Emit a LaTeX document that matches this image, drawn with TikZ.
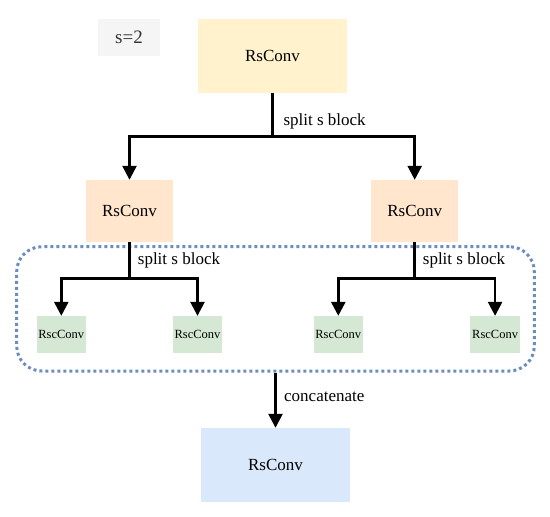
\documentclass[tikz,border=0pt]{standalone}
\usepackage{fontspec}
\setmainfont{Liberation Serif}
\usetikzlibrary{arrows.meta}
\definecolor{cYellow}{HTML}{FFF2CC}
\definecolor{cPeach}{HTML}{FFE6CC}
\definecolor{cGreen}{HTML}{D5E8D4}
\definecolor{cBlue}{HTML}{DAE8FC}
\definecolor{cGray}{HTML}{F5F5F5}
\definecolor{cDot}{HTML}{6C8EBF}
\tikzset{
  box/.style={rectangle, inner sep=0pt, font=\fontsize{17}{20}\selectfont},
  bigbox/.style={box, minimum width=149pt, minimum height=74pt},
  midbox/.style={box, fill=cPeach, minimum width=87pt, minimum height=62pt},
  smallbox/.style={box, fill=cGreen, minimum width=49.5pt, minimum height=37.3pt, font=\fontsize{12.5}{14}\selectfont},
  lbl/.style={inner sep=0pt, anchor=west, font=\fontsize{17}{20}\selectfont},
  conn/.style={line width=2.5pt, line join=miter},
  arr/.style={conn, -{Triangle[width=14pt,length=14pt]}},
}
\begin{document}
\begin{tikzpicture}[x=1pt,y=-1pt]
\useasboundingbox (0,0) rectangle (550,517);
% legend
\node[box, fill=cGray, minimum width=62pt, minimum height=37pt, text=black!80, font=\fontsize{19}{22}\selectfont] (s) at (129,37.5) {s=2};
% group outline
\node[draw=cDot, line width=3pt, dash pattern=on 3pt off 3pt, rounded corners=25pt, minimum width=517.6pt, minimum height=124.3pt, inner sep=0pt] (grp) at (275.5,308.85) {};
% boxes
\node[bigbox, fill=cYellow] (top) at (272.5,56) {RsConv};
\node[midbox] (mL) at (129.5,211) {RsConv};
\node[midbox] (mR) at (414.7,211) {RsConv};
\node[smallbox] (s1) at (61.3,334.7) {RscConv};
\node[smallbox] (s2) at (197.5,334.7) {RscConv};
\node[smallbox] (s3) at (338.3,334.7) {RscConv};
\node[smallbox] (s4) at (495.1,334.7) {RscConv};
\node[bigbox, fill=cBlue, minimum height=73.7pt] (bot) at (275.5,464.85) {RsConv};
% connectors
\coordinate (j0) at (272.5,136.5);
\draw[conn] (top.south) -- (j0);
\draw[arr] (j0) -| (mL.north);
\draw[arr] (j0) -| (mR.north);
\coordinate (jL) at (129.5,278.3);
\draw[conn] (mL.south) -- (jL);
\draw[arr] (jL) -| (s1.north);
\draw[arr] (jL) -| (s2.north);
\coordinate (jR) at (414.7,278.3);
\draw[conn] (mR.south) -- (jR);
\draw[arr] (jR) -| (s3.north);
\draw[arr] (jR) -| (s4.north);
\coordinate (jB) at (grp.south -| bot.north);
\draw[arr] (jB) -- (bot.north);
% labels
\node[lbl] (l0) at (283.3,121) {split s block};
\node[lbl] (l1) at (137.7,260) {split s block};
\node[lbl] (l2) at (422.7,260) {split s block};
\node[lbl] (l3) at (284,396.7) {concatenate};
\end{tikzpicture}
\end{document}
